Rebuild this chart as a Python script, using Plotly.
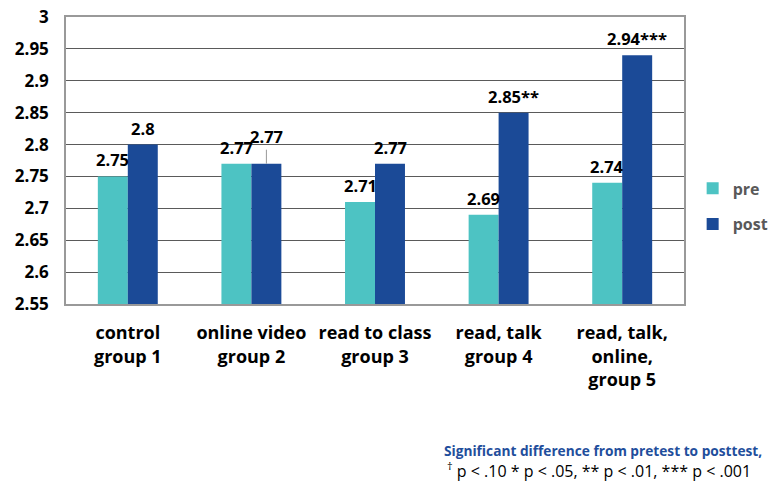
import plotly.graph_objects as go

categories = ["control<br>group 1", "online video<br>group 2", "read to class<br>group 3",
              "read, talk<br>group 4", "read, talk,<br>online,<br>group 5"]
pre = [2.75, 2.77, 2.71, 2.69, 2.74]
post = [2.80, 2.77, 2.77, 2.85, 2.94]
post_labels = ["2.8", "2.77", "2.77", "2.85**", "2.94***"]
pre_labels = ["2.75", "2.77", "2.71", "2.69", "2.74"]
y_ticks = [2.55, 2.6, 2.65, 2.7, 2.75, 2.8, 2.85, 2.9, 2.95, 3.0]
y_tick_text = ["2.55", "2.6", "2.65", "2.7", "2.75", "2.8", "2.85", "2.9", "2.95", "3"]

PRE_C = "#4DC3C3"
POST_C = "#1B4A97"
FONT = "Open Sans"
LBL = dict(family=FONT, size=16.5, color="black", weight="bold")

fig = go.Figure()
fig.add_trace(go.Bar(x=categories, y=pre, name="pre", marker_color=PRE_C,
                     marker_line_width=0, legendgroup="a"))
fig.add_trace(go.Bar(x=categories, y=post, name="post", marker_color=POST_C,
                     marker_line_width=0, legendgroup="b"))

ann = []
for i, c in enumerate(categories):
    ann.append(dict(x=c, y=pre[i], text=pre_labels[i], xref="x", yref="y",
                    showarrow=False, yanchor="bottom", xshift=-15,
                    yshift=3, font=LBL))
    if i == 1:
        ann.append(dict(x=c, y=post[i], text=post_labels[i], xref="x", yref="y",
                        showarrow=True, arrowhead=0, arrowwidth=1, arrowcolor="#999999",
                        ax=0, ay=-27, xshift=15, standoff=0, font=LBL))
    else:
        ann.append(dict(x=c, y=post[i], text=post_labels[i], xref="x", yref="y",
                        showarrow=False, yanchor="bottom", xshift=15, yshift=3, font=LBL))

ann.append(dict(x=1.129, y=-0.512, xref="paper", yref="paper", xanchor="right", yanchor="middle",
                showarrow=False, text="Significant difference from pretest to posttest,",
                font=dict(family=FONT, size=13.7, color="#1F4E9C", weight="bold")))
ann.append(dict(x=0.613, y=-0.58, xref="paper", yref="paper", xanchor="left", yanchor="middle",
                showarrow=False, text="<sup>†</sup> p < .10 * p < .05, ** p < .01, *** p < .001",
                font=dict(family=FONT, size=16, color="black")))

fig.update_layout(
    width=770, height=473,
    margin=dict(l=58, r=94, t=9, b=177, autoexpand=False),
    paper_bgcolor="white", plot_bgcolor="white",
    barmode="group", bargap=0.515, bargroupgap=0,
    font=dict(family=FONT),
    showlegend=True,
    legend=dict(x=1.014, y=0.34, xanchor="left", yanchor="middle",
                font=dict(family=FONT, size=16, color="#595959", weight="bold"),
                tracegroupgap=12, traceorder="grouped", bgcolor="rgba(0,0,0,0)"),
    annotations=ann,
    xaxis=dict(showgrid=False, showline=True, linecolor="#999999", linewidth=1.5,
               mirror=True, ticks="", ticklabelstandoff=12, automargin=False,
               ticklabeloverflow="allow",
               tickfont=dict(family=FONT, size=18, color="black", weight="bold")),
    yaxis=dict(range=[2.55, 3.0], tickvals=y_ticks, ticktext=y_tick_text,
               showgrid=True, gridcolor="#5a5a5a", gridwidth=1,
               showline=True, linecolor="#999999", linewidth=1.5, mirror=True,
               ticks="", ticklabelstandoff=12, zeroline=False, automargin=False,
               ticklabeloverflow="allow",
               tickfont=dict(family=FONT, size=17, color="black", weight="bold")),
)

fig.write_html("out.html")
